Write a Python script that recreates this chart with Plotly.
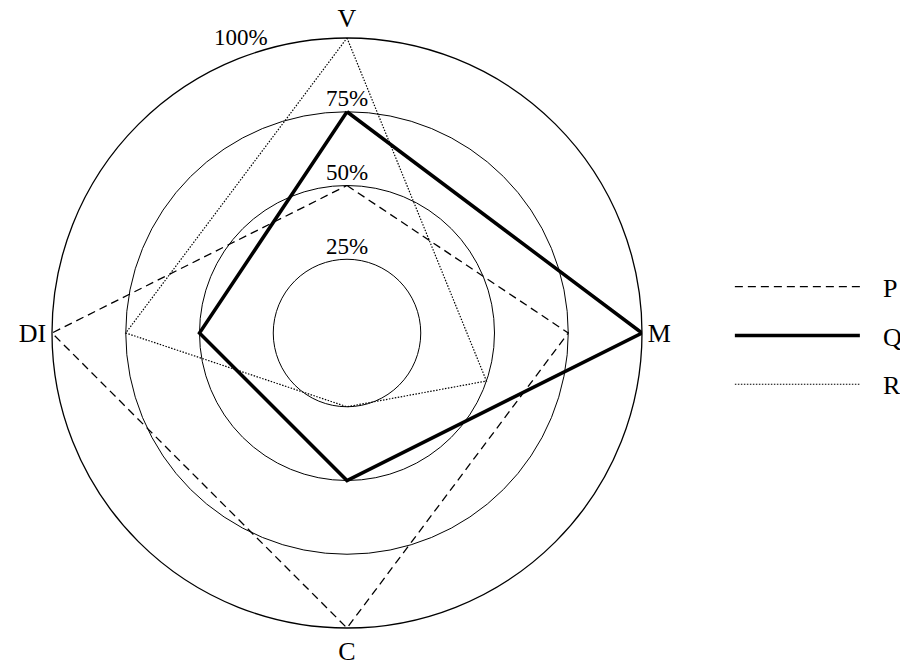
import plotly.graph_objects as go

# ---- data ----
categories = ["V", "M", "C", "DI"]
category_angles = [90, 0, 270, 180]
series_names = ["P", "Q", "R"]
p_values = [50, 75, 100, 100]
p_angles = [90, 0, 270, 180]
q_values = [75, 100, 50, 50]
q_angles = [90, 0, 270, 180]
r_values = [100, 50, 25, 75]
r_angles = [90, 341, 270, 180]
ring_values = [25, 50, 75, 100]
ring_labels = ["25%", "50%", "75%", "100%"]

FONT = "Liberation Serif, DejaVu Serif, serif"
PAD = "\u00a0\u00a0\u2009"


def closed(a):
    return list(a) + [a[0]]


fig = go.Figure()

fig.add_trace(go.Scatterpolar(
    r=closed(p_values), theta=closed(p_angles), mode="lines", name=PAD + series_names[0],
    line=dict(color="black", width=1.3, dash="8px,5px"), legendgroup="p",
))
fig.add_trace(go.Scatterpolar(
    r=closed(q_values), theta=closed(q_angles), mode="lines", name=PAD + series_names[1],
    line=dict(color="black", width=3.5), legendgroup="q",
))
fig.add_trace(go.Scatterpolar(
    r=closed(r_values), theta=closed(r_angles), mode="lines", name=PAD + series_names[2],
    line=dict(color="black", width=1.2, dash="1.5px,1.5px"), legendgroup="r",
))

# ring percentage labels (inner rings)
fig.add_trace(go.Scatterpolar(
    r=ring_values[:3], theta=[90, 90, 90], mode="text", text=ring_labels[:3],
    textposition="top center", textfont=dict(family=FONT, size=23, color="black"),
    showlegend=False, hoverinfo="skip", cliponaxis=False,
))

fig.update_layout(
    width=908, height=663,
    margin=dict(l=0, r=0, t=0, b=0),
    paper_bgcolor="white",
    font=dict(family=FONT, size=26, color="black"),
    polar=dict(
        domain=dict(x=[44 / 908, 634 / 908], y=[1 - 620 / 663, 1 - 30 / 663]),
        bgcolor="white",
        radialaxis=dict(
            range=[0, 100], tickvals=ring_values, showticklabels=False,
            showline=False, ticks="", gridcolor="black", gridwidth=1.3,
        ),
        angularaxis=dict(
            type="linear", thetaunit="degrees", direction="counterclockwise", rotation=0,
            tickvals=category_angles, ticktext=categories, showgrid=False,
            showline=True, linecolor="black", linewidth=1.3, ticks="",
            tickfont=dict(family=FONT, size=26, color="black"),
        ),
    ),
    annotations=[dict(
        text=ring_labels[3], xref="paper", yref="paper",
        x=233 / 908, y=1 - 30 / 663, xanchor="center", yanchor="middle",
        showarrow=False, font=dict(family=FONT, size=23, color="black"),
    )],
    legend=dict(
        x=0.795, y=0.615, xanchor="left", yanchor="top",
        font=dict(family=FONT, size=26, color="black"),
        itemwidth=125, tracegroupgap=12, traceorder="grouped",
        bgcolor="rgba(0,0,0,0)",
    ),
    showlegend=True,
    hovermode=False,
)

fig.write_html("out.html", config={"displayModeBar": False})
